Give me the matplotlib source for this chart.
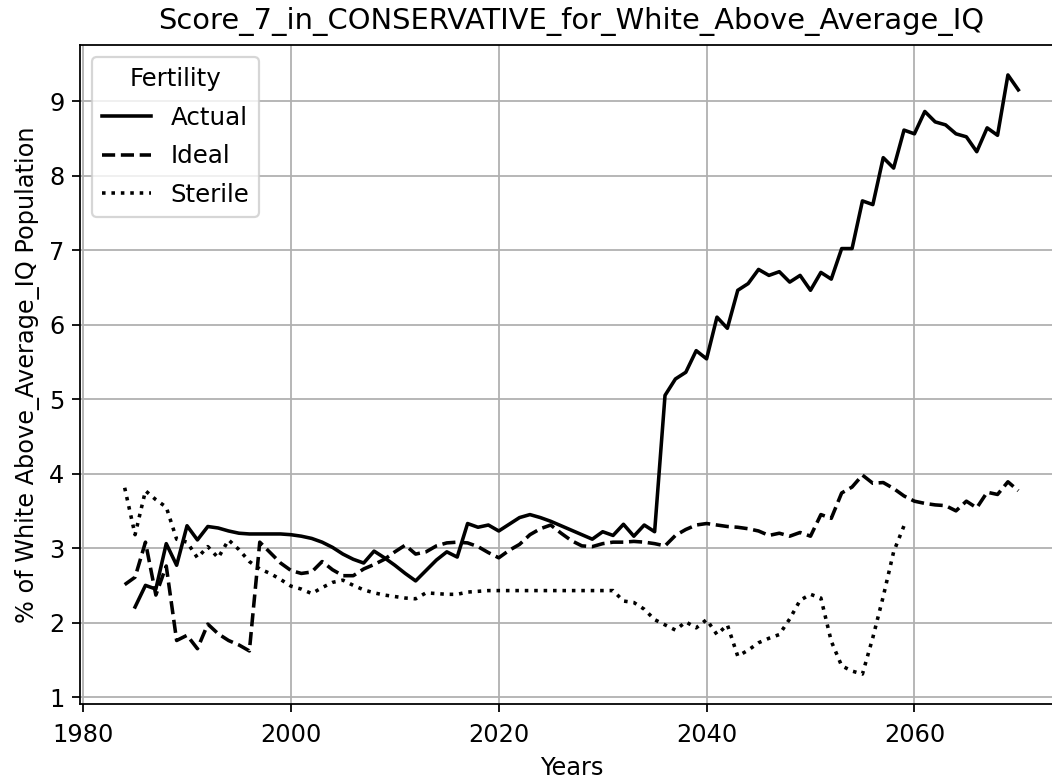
import matplotlib
matplotlib.use("Agg")
import matplotlib.pyplot as plt

years_actual = list(range(1985, 2071))
actual = [2.21, 2.50, 2.45, 3.06, 2.77, 3.30, 3.11, 3.29, 3.27, 3.23,
          3.20, 3.19, 3.19, 3.19, 3.19, 3.18, 3.16, 3.13, 3.08, 3.01,
          2.92, 2.85, 2.80, 2.96, 2.87, 2.77, 2.66, 2.56, 2.70, 2.84,
          2.95, 2.88, 3.33, 3.28, 3.31, 3.23, 3.32, 3.41, 3.45, 3.41,
          3.36, 3.30, 3.24, 3.18, 3.12, 3.22, 3.17, 3.32, 3.16, 3.31,
          3.22, 5.05, 5.27, 5.36, 5.65, 5.54, 6.10, 5.95, 6.46, 6.55,
          6.74, 6.66, 6.71, 6.57, 6.66, 6.46, 6.70, 6.61, 7.02, 7.02,
          7.66, 7.61, 8.24, 8.10, 8.61, 8.56, 8.86, 8.72, 8.68, 8.56,
          8.52, 8.32, 8.64, 8.54, 9.35, 9.15]

years_ideal = list(range(1984, 2071))
ideal = [2.51, 2.61, 3.08, 2.37, 2.76, 1.76, 1.83, 1.65, 1.98, 1.85,
         1.76, 1.70, 1.62, 3.08, 2.94, 2.80, 2.70, 2.66, 2.68, 2.82,
         2.71, 2.63, 2.63, 2.72, 2.78, 2.85, 2.95, 3.04, 2.92, 2.95,
         3.03, 3.07, 3.08, 3.07, 3.02, 2.94, 2.87, 2.97, 3.05, 3.18,
         3.26, 3.31, 3.20, 3.10, 3.03, 3.02, 3.06, 3.08, 3.08, 3.09,
         3.08, 3.06, 3.03, 3.17, 3.25, 3.31, 3.33, 3.31, 3.29, 3.28,
         3.26, 3.23, 3.17, 3.20, 3.16, 3.21, 3.16, 3.45, 3.40, 3.74,
         3.82, 3.98, 3.87, 3.88, 3.80, 3.70, 3.63, 3.60, 3.58, 3.57,
         3.50, 3.63, 3.54, 3.75, 3.72, 3.89, 3.77]

years_sterile = list(range(1984, 2060))
sterile = [3.81, 3.18, 3.77, 3.65, 3.55, 3.12, 3.08, 2.87, 3.02, 2.87,
           3.11, 2.98, 2.82, 2.72, 2.66, 2.58, 2.49, 2.45, 2.39, 2.47,
           2.54, 2.57, 2.50, 2.44, 2.40, 2.37, 2.35, 2.33, 2.32, 2.40,
           2.39, 2.38, 2.38, 2.41, 2.42, 2.43, 2.43, 2.43, 2.43, 2.43,
           2.43, 2.43, 2.43, 2.43, 2.43, 2.43, 2.43, 2.43, 2.29, 2.27,
           2.18, 2.04, 1.97, 1.90, 2.01, 1.93, 2.04, 1.84, 1.97, 1.55,
           1.63, 1.73, 1.79, 1.84, 2.05, 2.30, 2.38, 2.33, 1.75, 1.42,
           1.35, 1.31, 1.80, 2.35, 2.95, 3.30]

plt.rcParams["font.size"] = 10.8

fig = plt.figure(figsize=(1052 / 160, 780 / 160), dpi=160)
ax = fig.add_axes([80 / 1052, 76 / 780, 983 / 1052, 659 / 780])

ax.plot(years_actual, actual, color="black", linestyle="-", linewidth=1.6, label="Actual")
ax.plot(years_ideal, ideal, color="black", linestyle="--", linewidth=1.6, label="Ideal")
ax.plot(years_sterile, sterile, color="black", linestyle=":", linewidth=1.6, label="Sterile")

ax.set_title("Score_7_in_CONSERVATIVE_for_White_Above_Average_IQ", fontsize=13, pad=7)
ax.set_xlabel("Years")
ax.set_ylabel("% of White Above_Average_IQ Population")
ax.tick_params(axis="x", pad=5)
ax.grid(True)
ax.legend(title="Fertility", loc="upper left", fontsize=11, title_fontsize=11,
          labelspacing=0.6)

fig.savefig("out.png", dpi=160)
